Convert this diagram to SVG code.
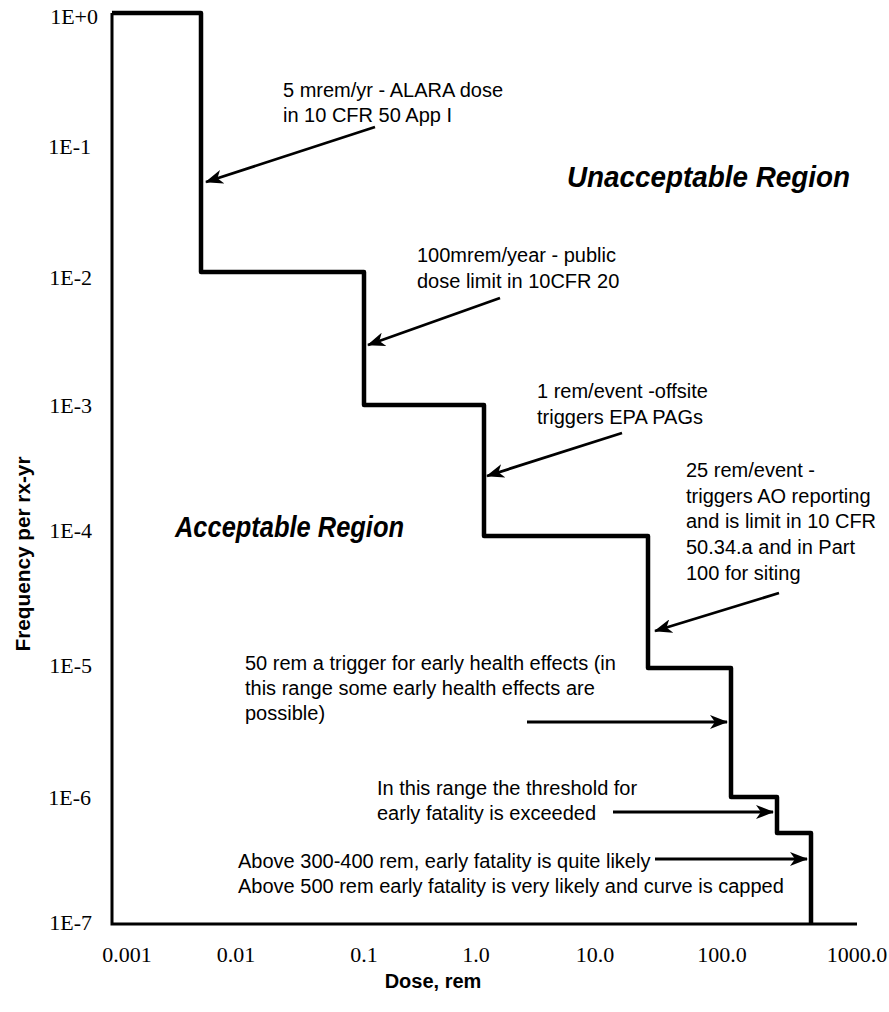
<svg xmlns="http://www.w3.org/2000/svg" width="889" height="1012" viewBox="0 0 889 1012">
<defs>
<marker id="ah" viewBox="0 0 18 14" refX="17" refY="7" markerWidth="18" markerHeight="14" markerUnits="userSpaceOnUse" orient="auto">
<path d="M0,0 L18,7 L0,14 L5,7 z" fill="#000"/>
</marker>
<style>
.ax{fill:none;stroke:#000;stroke-width:3}
.curve{fill:none;stroke:#000;stroke-width:4.5;stroke-linejoin:round}
.arr{fill:none;stroke:#000;stroke-width:2.8;marker-end:url(#ah)}
.lbl{font-family:"Liberation Sans",Arial,sans-serif;font-size:20px;fill:#000}
.reg{font-family:"Liberation Sans",Arial,sans-serif;font-size:29px;font-weight:bold;font-style:italic;fill:#000}
.tick{font-family:"Liberation Serif","Times New Roman",serif;font-size:22px;fill:#000}
.title{font-family:"Liberation Sans",Arial,sans-serif;font-size:20px;font-weight:bold;fill:#000}
</style>
</defs>
<rect width="889" height="1012" fill="#fff"/>
<g id="axes">
<path class="ax" d="M112,13 L112,924 L857,924"/>
</g>
<g id="curve">
<path class="curve" d="M112,13 L201,13 L201,272 L364,272 L364,405 L484,405 L484,536 L648,536 L648,668 L731,668 L731,797 L777,797 L777,833 L811,833 L811,924"/>
</g>
<g id="y-ticks" class="tick" text-anchor="end">
<text x="98" y="24">1E+0</text>
<text x="91" y="154">1E-1</text>
<text x="92" y="285">1E-2</text>
<text x="92" y="413">1E-3</text>
<text x="92" y="538">1E-4</text>
<text x="92" y="673">1E-5</text>
<text x="91" y="805">1E-6</text>
<text x="92" y="930">1E-7</text>
</g>
<g id="x-ticks" class="tick" text-anchor="middle">
<text x="127" y="962">0.001</text>
<text x="236" y="962">0.01</text>
<text x="364" y="962">0.1</text>
<text x="476" y="962">1.0</text>
<text x="595" y="962">10.0</text>
<text x="722" y="962">100.0</text>
<text x="857" y="962">1000.0</text>
</g>
<g id="x-title"><text class="title" x="433" y="988" text-anchor="middle">Dose, rem</text></g>
<g id="y-title"><text class="title" transform="translate(30,554) rotate(-90)" text-anchor="middle" textLength="195" lengthAdjust="spacingAndGlyphs">Frequency per rx-yr</text></g>
<g id="region-unacceptable"><text class="reg" x="567" y="187" textLength="283" lengthAdjust="spacingAndGlyphs">Unacceptable Region</text></g>
<g id="region-acceptable"><text class="reg" x="175" y="537" textLength="229" lengthAdjust="spacingAndGlyphs">Acceptable Region</text></g>
<g id="note-alara">
<text class="lbl" x="283" y="97">5 mrem/yr - ALARA dose</text>
<text class="lbl" x="283" y="122">in 10 CFR 50 App I</text>
</g>
<g id="note-public">
<text class="lbl" x="417" y="262">100mrem/year - public</text>
<text class="lbl" x="417" y="288">dose limit in 10CFR 20</text>
</g>
<g id="note-offsite">
<text class="lbl" x="537" y="398">1 rem/event -offsite</text>
<text class="lbl" x="537" y="424">triggers EPA PAGs</text>
</g>
<g id="note-25rem">
<text class="lbl" x="686" y="477">25 rem/event -</text>
<text class="lbl" x="686" y="503">triggers AO reporting</text>
<text class="lbl" x="686" y="528">and is limit in 10 CFR</text>
<text class="lbl" x="686" y="554">50.34.a and in Part</text>
<text class="lbl" x="686" y="580">100 for siting</text>
</g>
<g id="note-50rem">
<text class="lbl" x="245" y="670">50 rem a trigger for early health effects (in</text>
<text class="lbl" x="245" y="695">this range some early health effects are</text>
<text class="lbl" x="245" y="720">possible)</text>
</g>
<g id="note-threshold">
<text class="lbl" x="377" y="795">In this range the threshold for</text>
<text class="lbl" x="377" y="820">early fatality is exceeded</text>
</g>
<g id="note-above">
<text class="lbl" x="238" y="868">Above 300-400 rem, early fatality is quite likely</text>
<text class="lbl" x="238" y="893">Above 500 rem early fatality is very likely and curve is capped</text>
</g>
<g id="connectors">
<line class="arr" x1="375" y1="127" x2="206" y2="182"/>
<line class="arr" x1="500" y1="298" x2="368" y2="345"/>
<line class="arr" x1="622" y1="433" x2="487" y2="476"/>
<line class="arr" x1="779" y1="593" x2="655" y2="631"/>
<line class="arr" x1="527" y1="722" x2="727" y2="722"/>
<line class="arr" x1="613" y1="812" x2="773" y2="812"/>
<line class="arr" x1="655" y1="859" x2="807" y2="859"/>
</g>
</svg>
